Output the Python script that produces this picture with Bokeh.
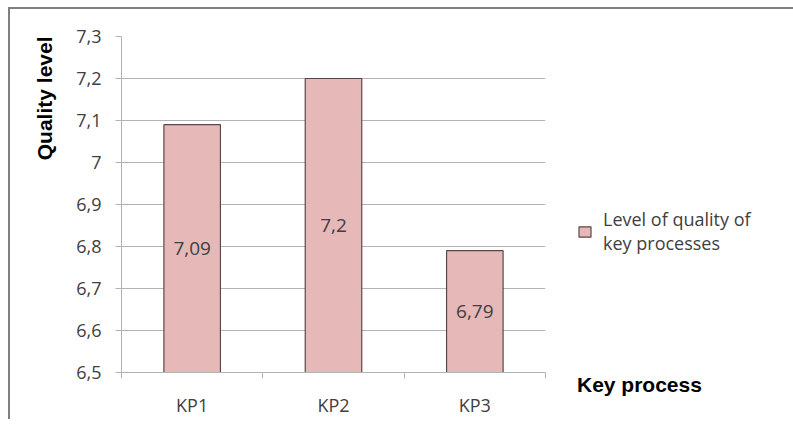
from bokeh.plotting import figure
from bokeh.models import (Range1d, FixedTicker, CustomJSTickFormatter, Title,
                          Legend, LegendItem, ColumnDataSource)
from bokeh.core.properties import value
from bokeh.embed import file_html
from bokeh.resources import INLINE

# ---- data ----
categories = ["KP1", "KP2", "KP3"]
quality = [7.09, 7.2, 6.79]
y_ticks = [6.5, 6.6, 6.7, 6.8, 6.9, 7.0, 7.1, 7.2, 7.3]
series_name = "Level of quality of\nkey processes"
y_title = "Quality level"
x_title = "Key process"
y_min, y_max = 6.5, 7.3

TXT = "#404040"
GRID = "#b3b3b3"
BAR_FILL = "#e6b9b8"
BAR_LINE = "#5a4848"

xs = [i + 0.5 for i in range(len(categories))]
mids = [(v + y_min) / 2 for v in quality]
lbls = [("%g" % v).replace(".", ",") for v in quality]
src = ColumnDataSource(dict(x=xs, top=quality, mid=mids, lbl=lbls))

p = figure(frame_width=424, frame_height=336, output_backend="svg",
           toolbar_location=None,
           x_range=Range1d(0, len(categories)), y_range=Range1d(y_min, y_max),
           min_border_left=111, min_border_right=0, min_border_top=27,
           min_border_bottom=45, margin=(7, 0, 0, 8),
           styles={"border-top": "2px solid #7f7f7f",
                   "border-left": "2px solid #7f7f7f"})
p.outline_line_color = None
p.background_fill_color = "white"
p.border_fill_color = "white"

# bars
bars = p.vbar(x="x", top="top", bottom=y_min, width=0.4, source=src,
              fill_color=BAR_FILL, line_color=BAR_LINE, line_width=1.2)
p.text(x="x", y="mid", text="lbl", source=src, text_align="center",
       text_baseline="middle", text_font=value("Open Sans"),
       text_font_size="19px", text_color=TXT)

# y axis
yt = FixedTicker(ticks=y_ticks)
p.yaxis.ticker = yt
p.yaxis.formatter = CustomJSTickFormatter(code="""
var s = tick.toFixed(1);
if (s.endsWith('.0')) { s = s.slice(0, -2); }
return s.replace('.', ',');
""")
p.yaxis.axis_line_color = GRID
p.yaxis.major_tick_line_color = GRID
p.yaxis.major_tick_out = 6
p.yaxis.major_tick_in = 0
p.yaxis.minor_tick_line_color = None
p.yaxis.major_label_standoff = 14
p.yaxis.major_label_text_font = "Open Sans"
p.yaxis.major_label_text_font_size = "18px"
p.yaxis.major_label_text_color = TXT

# x axis
p.xaxis.ticker = FixedTicker(ticks=xs, minor_ticks=list(range(len(categories) + 1)))
p.xaxis.formatter = CustomJSTickFormatter(args=dict(labels=categories),
                                          code="return labels[Math.floor(tick)];")
p.xaxis.axis_line_color = GRID
p.xaxis.major_tick_line_color = None
p.xaxis.minor_tick_line_color = GRID
p.xaxis.minor_tick_out = 6
p.xaxis.minor_tick_in = 0
p.xaxis.major_label_standoff = 14
p.xaxis.major_label_text_font = "Open Sans"
p.xaxis.major_label_text_font_size = "18px"
p.xaxis.major_label_text_color = TXT

# grid
p.xgrid.visible = False
p.ygrid.ticker = yt
p.ygrid.grid_line_color = GRID
p.ygrid.grid_line_width = 1

# y axis title (left side, aligned to top)
p.add_layout(Title(text=y_title, align="right", text_font="Liberation Sans",
                   text_font_style="bold", text_font_size="21px",
                   text_color="black", standoff=36), "left")

# legend with the x title below the item
legend = Legend(items=[LegendItem(label=series_name, renderers=[bars])],
                location=(32, -25), padding=0, margin=0, spacing=0,
                glyph_width=15, glyph_height=13, label_standoff=11,
                label_text_font="Open Sans", label_text_font_size="18px",
                label_text_color=TXT, border_line_color=None,
                background_fill_alpha=0,
                title=x_title, title_location="below", title_standoff=118,
                title_text_font="Liberation Sans", title_text_font_style="bold",
                title_text_font_size="21px", title_text_color="black")
p.add_layout(legend, "right")

open("out.html", "w").write(file_html(p, INLINE))
